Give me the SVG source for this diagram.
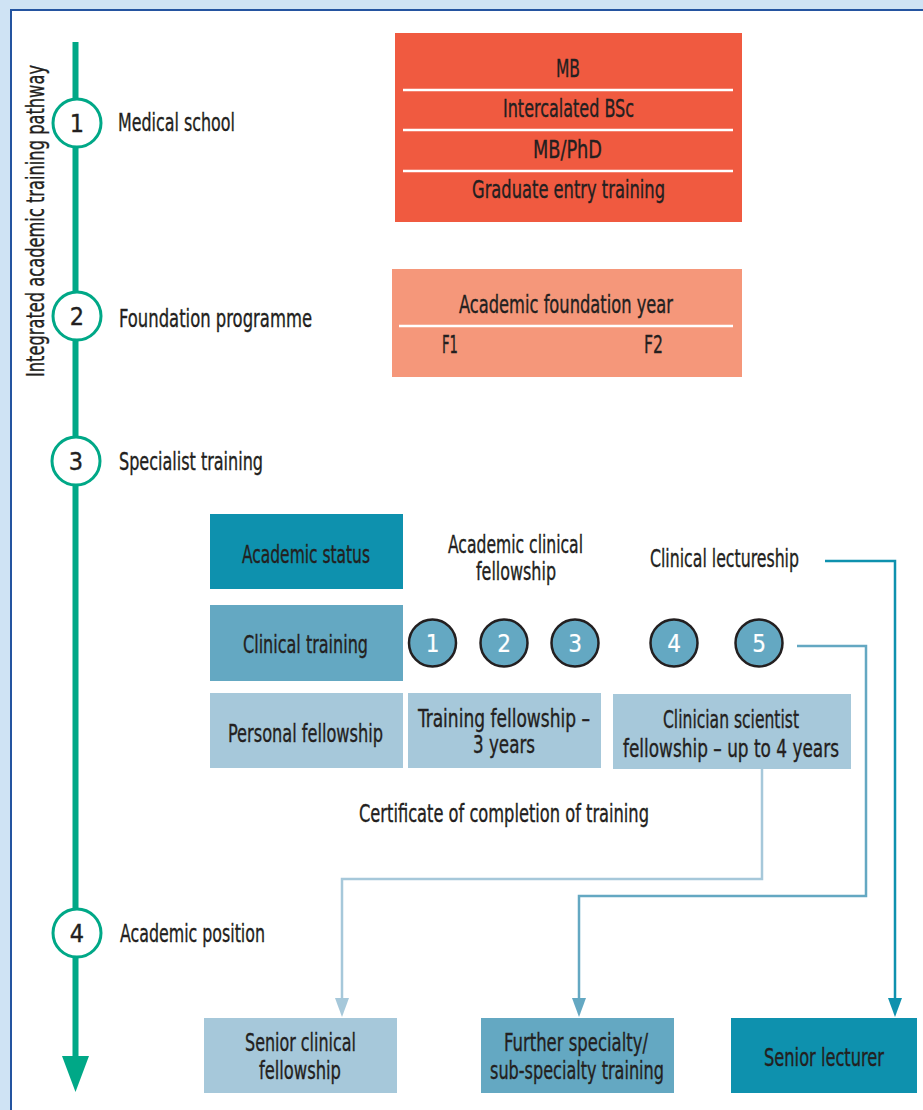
<svg xmlns="http://www.w3.org/2000/svg" width="923" height="1110" viewBox="0 0 923 1110">
<style>
text{font-family:"DejaVu Sans Condensed","Liberation Sans Narrow","Liberation Sans",sans-serif;fill:#231f20;font-size:24px;stroke:#231f20;stroke-width:0.35}
.lbl{font-size:25px}
.num{font-size:25px;text-anchor:middle}
.wnum{font-size:24px;text-anchor:middle;fill:#ffffff;stroke:#ffffff;stroke-width:0.2}
.stage{fill:#ffffff;stroke:#00a887;stroke-width:3}
.small{fill:#64a8c2;stroke:#231f20;stroke-width:2.5}
.wl{stroke:#ffffff;stroke-width:2.5}
.c1{fill:none;stroke:#a6c8da;stroke-width:2.5}
.c2{fill:none;stroke:#64a8c2;stroke-width:2.5}
.c3{fill:none;stroke:#0e91ae;stroke-width:2.5}
</style>
<defs>
<marker id="a1" viewBox="0 0 19 14" refX="12" refY="7" markerWidth="19" markerHeight="14" markerUnits="userSpaceOnUse" orient="auto"><path d="M0,0 L19,7 L0,14 z" fill="#a6c8da"/></marker>
<marker id="a2" viewBox="0 0 19 14" refX="12" refY="7" markerWidth="19" markerHeight="14" markerUnits="userSpaceOnUse" orient="auto"><path d="M0,0 L19,7 L0,14 z" fill="#64a8c2"/></marker>
<marker id="a3" viewBox="0 0 19 14" refX="12" refY="7" markerWidth="19" markerHeight="14" markerUnits="userSpaceOnUse" orient="auto"><path d="M0,0 L19,7 L0,14 z" fill="#0e91ae"/></marker>
</defs>
<rect x="0" y="0" width="923" height="1110" fill="#cfe3f4"/>
<rect x="11" y="10" width="930" height="1120" fill="#ffffff" stroke="#2454a0" stroke-width="2"/>

<g id="pathway">
<rect x="72.5" y="42" width="6" height="1016" fill="#00a887"/>
<polygon points="62,1056 89,1056 75.5,1092" fill="#00a887"/>
<text transform="translate(44,377) rotate(-90)" class="lbl" textLength="312" lengthAdjust="spacingAndGlyphs">Integrated academic training pathway</text>
</g>

<g id="stage1">
<circle cx="77" cy="123" r="24" class="stage"/>
<text x="77" y="132" class="num">1</text>
<text x="118" y="131" class="lbl" textLength="117" lengthAdjust="spacingAndGlyphs">Medical school</text>
</g>
<g id="stage2">
<circle cx="77" cy="316" r="24" class="stage"/>
<text x="77" y="325" class="num">2</text>
<text x="119" y="327" class="lbl" textLength="193" lengthAdjust="spacingAndGlyphs">Foundation programme</text>
</g>
<g id="stage3">
<circle cx="76" cy="461" r="24" class="stage"/>
<text x="76" y="470" class="num">3</text>
<text x="119" y="470" class="lbl" textLength="144" lengthAdjust="spacingAndGlyphs">Specialist training</text>
</g>
<g id="stage4">
<circle cx="77" cy="933" r="24" class="stage"/>
<text x="77" y="942" class="num">4</text>
<text x="120" y="942" class="lbl" textLength="145" lengthAdjust="spacingAndGlyphs">Academic position</text>
</g>

<g id="medical-school-box">
<rect x="395" y="33" width="347" height="189" fill="#f05a40"/>
<line x1="403" y1="90" x2="733" y2="90" class="wl"/>
<line x1="403" y1="130" x2="733" y2="130" class="wl"/>
<line x1="403" y1="171" x2="733" y2="171" class="wl"/>
<text x="556" y="77" textLength="24" lengthAdjust="spacingAndGlyphs">MB</text>
<text x="503" y="117" textLength="131" lengthAdjust="spacingAndGlyphs">Intercalated BSc</text>
<text x="533" y="158" textLength="69" lengthAdjust="spacingAndGlyphs">MB/PhD</text>
<text x="472" y="198" textLength="193" lengthAdjust="spacingAndGlyphs">Graduate entry training</text>
</g>

<g id="foundation-box">
<rect x="392" y="269" width="350" height="108" fill="#f5977a"/>
<line x1="399" y1="326" x2="733" y2="326" class="wl"/>
<text x="459" y="313" textLength="214" lengthAdjust="spacingAndGlyphs">Academic foundation year</text>
<text x="442" y="353" textLength="16" lengthAdjust="spacingAndGlyphs">F1</text>
<text x="644" y="353" textLength="19" lengthAdjust="spacingAndGlyphs">F2</text>
</g>

<g id="academic-status">
<rect x="210" y="514" width="193" height="75" fill="#0e91ae"/>
<text x="242" y="563" textLength="128" lengthAdjust="spacingAndGlyphs">Academic status</text>
</g>
<g id="clinical-training">
<rect x="210" y="605" width="193" height="76" fill="#64a8c2"/>
<text x="243" y="653" textLength="125" lengthAdjust="spacingAndGlyphs">Clinical training</text>
</g>
<g id="personal-fellowship">
<rect x="210" y="693" width="193" height="75" fill="#a6c8da"/>
<text x="228" y="742" textLength="155" lengthAdjust="spacingAndGlyphs">Personal fellowship</text>
</g>
<g id="training-fellowship">
<rect x="408" y="693" width="193" height="75" fill="#a6c8da"/>
<text x="418" y="727" textLength="172" lengthAdjust="spacingAndGlyphs">Training fellowship –</text>
<text x="473" y="753" textLength="62" lengthAdjust="spacingAndGlyphs">3 years</text>
</g>
<g id="clinician-scientist">
<rect x="613" y="694" width="238" height="75" fill="#a6c8da"/>
<text x="663" y="728" textLength="136" lengthAdjust="spacingAndGlyphs">Clinician scientist</text>
<text x="623" y="757" textLength="216" lengthAdjust="spacingAndGlyphs">fellowship – up to 4 years</text>
</g>
<g id="academic-clinical-fellowship">
<text x="448" y="553" textLength="135" lengthAdjust="spacingAndGlyphs">Academic clinical</text>
<text x="476" y="580" textLength="80" lengthAdjust="spacingAndGlyphs">fellowship</text>
</g>
<g id="clinical-lectureship">
<text x="650" y="567" textLength="149" lengthAdjust="spacingAndGlyphs">Clinical lectureship</text>
</g>
<g id="year1"><circle cx="432.5" cy="643" r="23.5" class="small"/><text x="432.5" y="652" class="wnum">1</text></g>
<g id="year2"><circle cx="504" cy="643" r="23.5" class="small"/><text x="504" y="652" class="wnum">2</text></g>
<g id="year3"><circle cx="575" cy="643" r="23.5" class="small"/><text x="575" y="652" class="wnum">3</text></g>
<g id="year4"><circle cx="674" cy="643" r="23.5" class="small"/><text x="674" y="652" class="wnum">4</text></g>
<g id="year5"><circle cx="759" cy="643" r="23.5" class="small"/><text x="759" y="652" class="wnum">5</text></g>

<g id="cct">
<text x="359" y="822" textLength="290" lengthAdjust="spacingAndGlyphs">Certificate of completion of training</text>
</g>

<g id="senior-clinical-fellowship">
<rect x="204" y="1018" width="193" height="75" fill="#a6c8da"/>
<text x="245" y="1051" textLength="111" lengthAdjust="spacingAndGlyphs">Senior clinical</text>
<text x="259" y="1079" textLength="82" lengthAdjust="spacingAndGlyphs">fellowship</text>
</g>
<g id="further-specialty">
<rect x="481" y="1018" width="193" height="75" fill="#64a8c2"/>
<text x="504" y="1051" textLength="144" lengthAdjust="spacingAndGlyphs">Further specialty/</text>
<text x="490" y="1079" textLength="174" lengthAdjust="spacingAndGlyphs">sub-specialty training</text>
</g>
<g id="senior-lecturer">
<rect x="731" y="1018" width="186" height="75" fill="#0e91ae"/>
<text x="764" y="1066" textLength="120" lengthAdjust="spacingAndGlyphs">Senior lecturer</text>
</g>

<g id="connectors">
<path d="M762,769 V879 H342 V1010" class="c1" marker-end="url(#a1)"/>
<path d="M797,646 H866 V896 H579 V1010" class="c2" marker-end="url(#a2)"/>
<path d="M825,561 H895 V1010" class="c3" marker-end="url(#a3)"/>
</g>
</svg>
